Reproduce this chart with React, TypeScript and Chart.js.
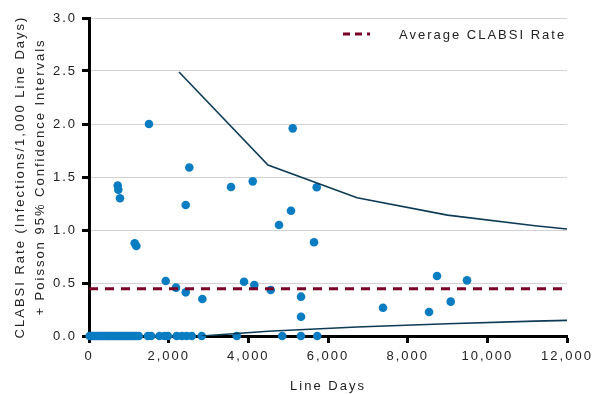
import React, { useEffect, useRef } from "react";
import { Chart, registerables } from "chart.js";

Chart.register(...registerables);

// Rates (infections / 1,000 line days) vs line days
const zeroLineDays = [
  15, 45, 80, 120, 160, 200, 245, 285, 330, 370, 415, 460, 500, 545, 590, 630,
  680, 720, 770, 810, 860, 905, 950, 1000, 1045, 1090, 1140, 1190, 1250,
  1480, 1560, 1770, 1900, 1980, 2200, 2330, 2450, 2580, 2830, 3710, 4850, 5320, 5730,
];
const rateLineDays = [
  721, 736, 778, 1506, 1147, 1188, 2518, 2428, 1926, 2184, 2428, 2845, 3565,
  4110, 3892, 4150, 4770, 5071, 5114, 4562, 5649, 5323, 5323, 5717, 8737,
  9490, 7381, 8536, 9081,
];
const rateValues = [
  1.42, 1.38, 1.3, 2.0, 0.875, 0.85, 1.59, 1.236, 0.519, 0.456, 0.412, 0.349,
  1.406, 1.459, 0.512, 0.481, 1.047, 1.182, 1.959, 0.434, 0.884, 0.371, 0.182,
  1.403, 0.566, 0.525, 0.267, 0.226, 0.324,
];
const upperCiDays = [2260, 4494, 6729, 9000, 11197, 12000];
const upperCiValues = [2.49, 1.613, 1.304, 1.14, 1.04, 1.01];
const lowerCiDays = [2830, 4494, 6729, 9000, 11197, 12000];
const lowerCiValues = [0, 0.045, 0.085, 0.115, 0.14, 0.147];
const averageRate = 0.445;
const xTickMax = 12000;
const yTickMax = 3.0;
const legendLabel = "Average CLABSI Rate";
const yTitle = ["CLABSI Rate (Infections/1,000 Line Days)", "+ Poisson 95% Confidence Intervals"];
const xTitle = "Line Days";

const FONT = "'Liberation Sans', Arial, sans-serif";
const SPACING = "2px";
const AVG_COLOR = "#7a0026";
const CI_COLOR = "#0d3b55";
const PT_COLOR = "#0a7cc2";

const spacingPlugin = {
  id: "spacing",
  beforeUpdate(chart: any) { chart.ctx.letterSpacing = SPACING; },
  beforeLayout(chart: any) { chart.ctx.letterSpacing = SPACING; },
  beforeDraw(chart: any) { chart.ctx.letterSpacing = SPACING; },
};

const legendPlugin = {
  id: "customLegend",
  afterDraw(chart: any) {
    const ctx = chart.ctx;
    ctx.save();
    ctx.letterSpacing = SPACING;
    ctx.strokeStyle = AVG_COLOR;
    ctx.lineWidth = 3;
    ctx.setLineDash([7, 5]);
    ctx.beginPath();
    ctx.moveTo(343, 34);
    ctx.lineTo(370, 34);
    ctx.stroke();
    ctx.setLineDash([]);
    ctx.fillStyle = "#222";
    ctx.font = `13px ${FONT}`;
    ctx.textBaseline = "middle";
    ctx.textAlign = "left";
    ctx.fillText(legendLabel, 399, 35);
    ctx.restore();
  },
};

export default function App() {
  const ref = useRef<HTMLCanvasElement>(null);
  useEffect(() => {
    if (!ref.current) return;
    const chart = new Chart(ref.current, {
      type: "scatter",
      data: {
        datasets: [
          {
            label: "Upper CI",
            type: "line",
            data: upperCiDays.map((x, i) => ({ x, y: upperCiValues[i] })),
            borderColor: CI_COLOR,
            borderWidth: 1.6,
            pointRadius: 0,
            fill: false,
            tension: 0,
          } as any,
          {
            label: "Lower CI",
            type: "line",
            data: lowerCiDays.map((x, i) => ({ x, y: lowerCiValues[i] })),
            borderColor: CI_COLOR,
            borderWidth: 1.6,
            pointRadius: 0,
            fill: false,
            tension: 0,
          } as any,
          {
            label: legendLabel,
            type: "line",
            data: [{ x: 0, y: averageRate }, { x: xTickMax, y: averageRate }],
            borderColor: AVG_COLOR,
            borderWidth: 3,
            borderDash: [9, 7],
            pointRadius: 0,
            fill: false,
          } as any,
          {
            label: "Zero rate",
            data: zeroLineDays.map((x) => ({ x, y: 0 })),
            backgroundColor: PT_COLOR,
            borderColor: PT_COLOR,
            pointRadius: 4.3,
            borderWidth: 0,
            clip: false,
          } as any,
          {
            label: "Rate",
            data: rateLineDays.map((x, i) => ({ x, y: rateValues[i] })),
            backgroundColor: PT_COLOR,
            borderColor: PT_COLOR,
            pointRadius: 4.3,
            borderWidth: 0,
            clip: false,
          } as any,
        ],
      },
      options: {
        responsive: false,
        animation: false,
        layout: { padding: { left: 0, right: 28, top: 18, bottom: 0 } },
        plugins: { legend: { display: false }, tooltip: { enabled: false } },
        scales: {
          x: {
            type: "linear",
            min: 0,
            max: xTickMax,
            ticks: {
              stepSize: 2000,
              color: "#222",
              font: { family: FONT, size: 13 },
              padding: 6,
              maxRotation: 0,
              callback: (v: any) => Number(v).toLocaleString("en-US"),
            },
            grid: { drawOnChartArea: false, drawTicks: true, tickLength: 7, tickColor: "#000", tickWidth: 3 },
            border: { color: "#000", width: 3 },
            title: {
              display: true,
              text: xTitle,
              color: "#222",
              font: { family: FONT, size: 13 },
              padding: { top: 0, bottom: 0 },
            },
            afterFit: (s: any) => { s.height = 58; s.paddingLeft = 0; s.paddingRight = 0; },
          },
          y: {
            type: "linear",
            min: 0,
            max: yTickMax,
            ticks: {
              stepSize: 0.5,
              color: "#222",
              font: { family: FONT, size: 13 },
              padding: 5,
              callback: (v: any) => Number(v).toFixed(1),
            },
            grid: { color: "#d2d2d2", lineWidth: 1, drawTicks: true, tickLength: 7, tickColor: "#000", tickWidth: 3 },
            border: { color: "#000", width: 3 },
            title: {
              display: true,
              text: yTitle,
              color: "#222",
              font: { family: FONT, size: 13, lineHeight: 1.55 },
              padding: { top: 10, bottom: 0 },
            },
            afterFit: (s: any) => { s.width = 89; s.paddingTop = 0; s.paddingBottom = 0; },
          },
        },
      },
      plugins: [spacingPlugin, legendPlugin],
    } as any);
    return () => chart.destroy();
  }, []);
  return (
    <div style={{ position: "fixed", left: 0, top: 0, width: 595, height: 394, background: "#fff" }}>
      <canvas ref={ref} width={595} height={394} style={{ display: "block" }} />
    </div>
  );
}
